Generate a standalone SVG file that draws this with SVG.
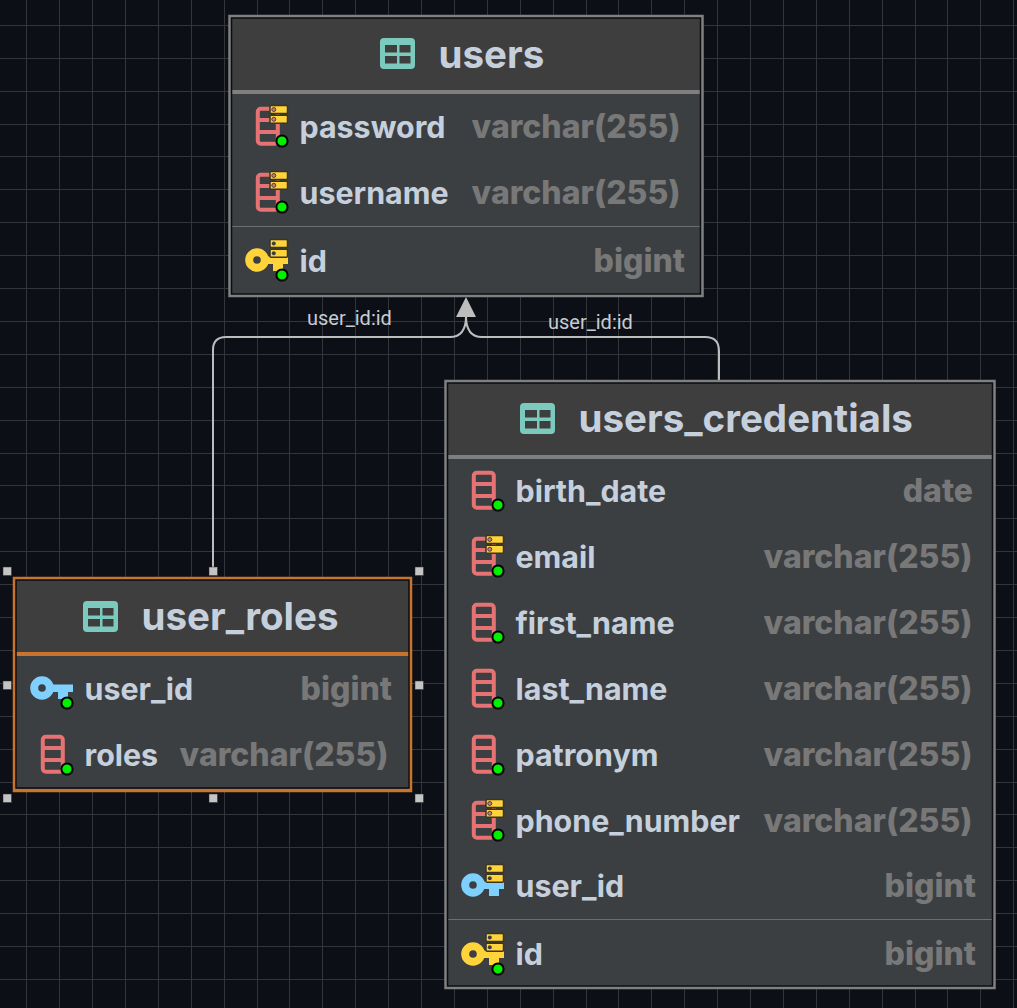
<svg xmlns="http://www.w3.org/2000/svg" xmlns:xlink="http://www.w3.org/1999/xlink" width="1017" height="1008" viewBox="0 0 1017 1008">
<style>
.frame{fill:#3c3f42;stroke:#808080;stroke-width:3.500}
.sel{stroke:#c8742f}
.inner{fill:none;stroke:#0b0d10;stroke-width:1.500}
.head{fill:#3e3e3e}
.div{fill:#7f7f7f}
.divsel{fill:#c8742f}
.thin{stroke:#6e6e6e;stroke-width:1}
text{font-family:"Inter","Liberation Sans",sans-serif}
.title{font-size:38.500px;font-weight:700;fill:#c6d0dc}
.label{font-size:30.400px;font-weight:700;fill:#c6d0dc}
.type{font-size:32px;font-weight:800;fill:#787878;text-anchor:end}
.link{font-family:"Roboto","Liberation Sans",sans-serif;font-size:20px;fill:#c6ccd4}
.conn{fill:none;stroke:#bdbdbd;stroke-width:2}
.handle{fill:#c4c4c4;stroke:#2a2a2a;stroke-width:.5}
</style>
<defs>
<g id="tableIcon"><rect width="35" height="31" rx="4" fill="#7cc9bd"/><path fill="#3e3e3e" d="M5 7h12v7.500H5zM19.500 7h11v7.500H19.500zM5 18h12v7.500H5zM19.500 18h11v7.500H19.500z"/></g>
<g id="col"><rect x="-24.200" y="-32.200" width="20" height="35" rx="3" fill="none" stroke="#e57373" stroke-width="4"/><path d="M-25-21H-4M-25-9H-4" stroke="#e57373" stroke-width="4"/></g>
<g id="key"><circle cx="-25" cy="-15" r="7.800" fill="none" stroke="currentColor" stroke-width="8"/><path fill="currentColor" d="M-20-18.500H6V-11H1V-4H-9V-11H-20z"/></g>
<circle id="dot" r="5.600" fill="#00f000" stroke="#000" stroke-width="2"/>
<g id="stackR"><rect x="-12" y="-35.500" width="17.500" height="8" rx="1" fill="#ffd43b" stroke="#3a3420" stroke-width="1.500"/><rect x="-12" y="-25.700" width="17.500" height="8" rx="1" fill="#ffd43b" stroke="#3a3420" stroke-width="1.500"/><circle cx="-8.200" cy="-31.500" r="2" fill="#d9737a" stroke="#443"/><circle cx="-8.200" cy="-21.700" r="2" fill="#d9737a" stroke="#443"/></g>
<g id="stackK"><rect x="-12" y="-35.500" width="17.500" height="8" rx="1" fill="#ffd43b" stroke="#3a3420" stroke-width="1.500"/><rect x="-12" y="-25.700" width="17.500" height="8" rx="1" fill="#ffd43b" stroke="#3a3420" stroke-width="1.500"/><circle cx="-8.200" cy="-31.500" r="2" fill="#3c3f42"/><circle cx="-8.200" cy="-21.700" r="2" fill="#3c3f42"/></g>
</defs>
<rect width="1017" height="1008" fill="#0c0f16"/>
<path id="grid" fill="none" stroke="#333538" stroke-width="1" d="M26.500 0V1008M59.500 0V1008M92.500 0V1008M125.500 0V1008M158.500 0V1008M191.500 0V1008M224.500 0V1008M257.500 0V1008M289.500 0V1008M322.500 0V1008M355.500 0V1008M388.500 0V1008M421.500 0V1008M454.500 0V1008M487.500 0V1008M520.500 0V1008M553.500 0V1008M586.500 0V1008M618.500 0V1008M651.500 0V1008M684.500 0V1008M717.500 0V1008M750.500 0V1008M783.500 0V1008M816.500 0V1008M849.500 0V1008M882.500 0V1008M915.500 0V1008M947.500 0V1008M980.500 0V1008M1013.500 0V1008M0 25.500H1017M0 58.500H1017M0 91.500H1017M0 124.500H1017M0 156.500H1017M0 189.500H1017M0 222.500H1017M0 255.500H1017M0 288.500H1017M0 321.500H1017M0 354.500H1017M0 387.500H1017M0 420.500H1017M0 453.500H1017M0 485.500H1017M0 518.500H1017M0 551.500H1017M0 584.500H1017M0 617.500H1017M0 650.500H1017M0 683.500H1017M0 716.500H1017M0 749.500H1017M0 782.500H1017M0 814.500H1017M0 847.500H1017M0 880.500H1017M0 913.500H1017M0 946.500H1017M0 979.500H1017"/>
<g id="connectors">
<path class="conn" d="M213 575V350Q213 337 226 337H450Q466 337 466 316"/>
<path class="conn" d="M719 380V351Q719 337 705 337H482Q466 337 466 316"/>
<path d="M466 297L476 317H456Z" fill="#bdbdbd"/>
<text class="link" x="307" y="325">user_id:id</text>
<text class="link" x="548" y="329">user_id:id</text>
</g>
<g id="users">
<rect class="frame" x="230" y="16.500" width="472" height="279"/>
<rect class="head" x="231.500" y="18" width="469" height="72"/>
<rect class="div" x="231.500" y="90" width="469" height="4"/>
<path class="thin" d="M231.500 226.500H700.500"/>
<rect class="inner" x="231.500" y="18" width="469" height="276"/>
<use href="#tableIcon" x="380" y="38"/>
<text class="title" x="438.500" y="68">users</text>
<use href="#col" x="282" y="141"/><use href="#stackR" x="282" y="141"/><use href="#dot" x="282" y="141"/>
<text class="label" x="299.500" y="138">password</text><text class="type" x="680.500" y="138">varchar(255)</text>
<use href="#col" x="282" y="207"/><use href="#stackR" x="282" y="207"/><use href="#dot" x="282" y="207"/>
<text class="label" x="299.500" y="204">username</text><text class="type" x="680.500" y="204">varchar(255)</text>
<use href="#key" x="282" y="275" color="#ffd43b"/><use href="#stackK" x="282" y="275"/><use href="#dot" x="282" y="275"/>
<text class="label" x="299.500" y="272">id</text><text class="type" x="685" y="272">bigint</text>
</g>
<g id="users_credentials">
<rect class="frame" x="446" y="381.500" width="548" height="606"/>
<rect class="head" x="447.500" y="383" width="545" height="72"/>
<rect class="div" x="447.500" y="455" width="545" height="4"/>
<path class="thin" d="M447.500 919.500H992.500"/>
<rect class="inner" x="447.500" y="383" width="545" height="603"/>
<use href="#tableIcon" x="520" y="403"/>
<text class="title" x="578.500" y="432">users_credentials</text>
<use href="#col" x="498" y="505"/><use href="#dot" x="498" y="505"/>
<text class="label" x="515.500" y="502">birth_date</text><text class="type" x="973" y="502">date</text>
<use href="#col" x="498" y="571"/><use href="#stackR" x="498" y="571"/><use href="#dot" x="498" y="571"/>
<text class="label" x="515.500" y="568">email</text><text class="type" x="972.500" y="568">varchar(255)</text>
<use href="#col" x="498" y="637"/><use href="#dot" x="498" y="637"/>
<text class="label" x="515.500" y="634">first_name</text><text class="type" x="972.500" y="634">varchar(255)</text>
<use href="#col" x="498" y="703"/><use href="#dot" x="498" y="703"/>
<text class="label" x="515.500" y="700">last_name</text><text class="type" x="972.500" y="700">varchar(255)</text>
<use href="#col" x="498" y="769"/><use href="#dot" x="498" y="769"/>
<text class="label" x="515.500" y="766">patronym</text><text class="type" x="972.500" y="766">varchar(255)</text>
<use href="#col" x="498" y="835"/><use href="#stackR" x="498" y="835"/><use href="#dot" x="498" y="835"/>
<text class="label" x="515.500" y="832">phone_number</text><text class="type" x="972.500" y="832">varchar(255)</text>
<use href="#key" x="498" y="900" color="#7fd0ff"/><use href="#stackK" x="498" y="900"/>
<text class="label" x="515.500" y="897">user_id</text><text class="type" x="976" y="897">bigint</text>
<use href="#key" x="498" y="969" color="#ffd43b"/><use href="#stackK" x="498" y="969"/><use href="#dot" x="498" y="969"/>
<text class="label" x="515.500" y="965">id</text><text class="type" x="976" y="965">bigint</text>
</g>
<g id="user_roles">
<rect class="frame sel" x="14.500" y="578.500" width="396" height="212"/>
<rect class="head" x="16" y="580" width="393" height="72"/>
<rect class="divsel" x="16" y="652" width="393" height="4"/>
<rect class="inner" x="16" y="580" width="393" height="208"/>
<use href="#tableIcon" x="83" y="601"/>
<text class="title" x="141.500" y="630">user_roles</text>
<use href="#key" x="67" y="703" color="#7fd0ff"/><use href="#dot" x="67" y="703"/>
<text class="label" x="84.500" y="700">user_id</text><text class="type" x="392" y="700">bigint</text>
<use href="#col" x="67" y="769"/><use href="#dot" x="67" y="769"/>
<text class="label" x="84.500" y="766">roles</text><text class="type" x="388.500" y="766">varchar(255)</text>
<g id="selection-handles"><rect class="handle" x="3" y="567" width="8.500" height="8.500"/><rect class="handle" x="209" y="567" width="8.500" height="8.500"/><rect class="handle" x="415" y="567" width="8.500" height="8.500"/><rect class="handle" x="3" y="681" width="8.500" height="8.500"/><rect class="handle" x="415" y="681" width="8.500" height="8.500"/><rect class="handle" x="3" y="794" width="8.500" height="8.500"/><rect class="handle" x="209" y="794" width="8.500" height="8.500"/><rect class="handle" x="415" y="794" width="8.500" height="8.500"/></g>
</g>
</svg>
